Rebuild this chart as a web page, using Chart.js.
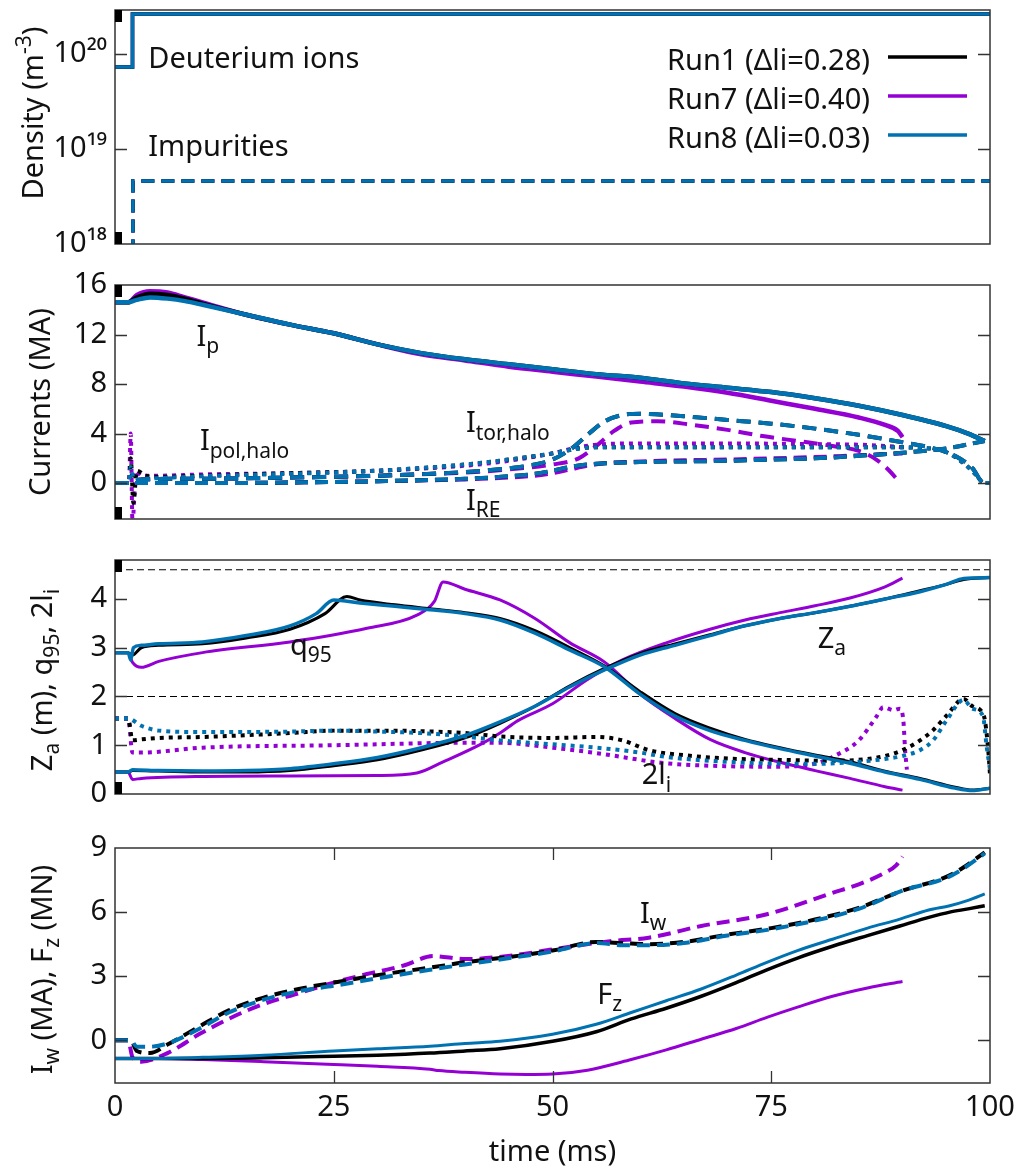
<!DOCTYPE html>
<html><head><meta charset="utf-8">
<script src="https://cdn.jsdelivr.net/npm/chart.js@4.4.1/dist/chart.umd.min.js"></script>
<style>
body{margin:0;background:#fff;width:1026px;height:1168px;position:relative;overflow:hidden}
canvas{position:absolute;left:0}
</style></head><body>
<canvas id="c1" width="1026" height="262" style="top:0px"></canvas>
<canvas id="c2" width="1026" height="273" style="top:262px"></canvas>
<canvas id="c3" width="1026" height="280" style="top:535px"></canvas>
<canvas id="c4" width="1026" height="353" style="top:815px"></canvas>
<script>
// ---------------- DATA ----------------
const runLabels = ['Run1 (Δli=0.28)', 'Run7 (Δli=0.40)', 'Run8 (Δli=0.03)'];
const xTicks = [0, 25, 50, 75, 100];

// Panel 1: density
const densTicks = [1e18, 1e19, 1e20];
const densTickLabels = ['10¹⁸', '10¹⁹', '10²⁰'];
const tDeut = [0, 2.0, 2.0, 100];
const deutRun1 = [7.3e19, 7.3e19, 2.63e20, 2.63e20];
const deutRun7 = [7.3e19, 7.3e19, 2.63e20, 2.63e20];
const deutRun8 = [7.3e19, 7.3e19, 2.63e20, 2.63e20];
const tImp = [2.05, 2.05, 100];
const impRun1 = [5e17, 4.6e18, 4.6e18];
const impRun7 = [5e17, 4.6e18, 4.6e18];
const impRun8 = [5e17, 4.6e18, 4.6e18];

// Panel 2: currents (MA)
const curTicks = [0, 4, 8, 12, 16];
const tIp = [0, 1.5, 2.5, 4, 6, 8, 10, 15, 20, 25, 30, 35, 40, 45, 50, 55, 60, 65, 70, 75, 80, 85, 90, 95, 97.5, 99.4];
const ipRun1 = [14.6, 14.6, 15.0, 15.3, 15.2, 14.9, 14.5, 13.6, 12.8, 12.1, 11.2, 10.5, 10.0, 9.6, 9.2, 8.8, 8.5, 8.05, 7.7, 7.35, 6.85, 6.25, 5.5, 4.6, 4.0, 3.4];
const ipRun8 = [14.6, 14.6, 14.8, 15.0, 14.9, 14.7, 14.4, 13.6, 12.8, 12.1, 11.2, 10.5, 10.0, 9.6, 9.2, 8.8, 8.5, 8.05, 7.7, 7.35, 6.85, 6.25, 5.5, 4.6, 4.0, 3.4];
const tIp7 = [0, 1.5, 2.5, 4, 6, 8, 10, 15, 20, 25, 30, 35, 40, 45, 50, 55, 60, 65, 70, 75, 80, 85, 88, 89.5, 90];
const ipRun7 = [14.6, 14.6, 15.2, 15.5, 15.4, 15.0, 14.6, 13.6, 12.8, 12.1, 11.2, 10.4, 9.9, 9.4, 9.0, 8.6, 8.2, 7.8, 7.3, 6.65, 6.0, 5.3, 4.7, 4.2, 3.7];

const tPol = [0, 1.6, 1.8, 2.1, 2.5, 3.5, 5, 10, 20, 30, 40, 45, 50, 53, 55, 60, 70, 80, 88, 92, 95, 97, 98.5, 99.3, 100];
const polRun1 = [0, 0, 2.0, -1.6, 1.0, 0.6, 0.5, 0.6, 0.8, 1.0, 1.5, 1.9, 2.4, 2.8, 2.9, 2.9, 2.9, 2.9, 2.9, 2.85, 2.5, 1.6, 0.6, 0, 0];
const polRun8 = [0, 0, 1.3, 0.4, 0.3, 0.35, 0.4, 0.55, 0.75, 1.0, 1.5, 1.9, 2.4, 2.8, 2.9, 2.9, 2.9, 2.9, 2.9, 2.85, 2.5, 1.6, 0.6, 0, 0];
const tPol7 = [0, 1.6, 1.8, 2.0, 2.4, 3, 5, 10, 20, 30, 40, 45, 50, 53, 55, 60, 70, 80, 85, 88, 90];
const polRun7 = [0, 0, 4.0, -3.2, 1.0, 0.6, 0.6, 0.7, 0.8, 1.0, 1.4, 1.8, 2.4, 2.9, 3.1, 3.2, 3.2, 3.15, 3.1, 3.0, 2.9];

const tTor = [0, 2, 3, 10, 20, 30, 40, 45, 48, 50, 52, 54, 56, 58, 60, 65, 70, 75, 80, 85, 90, 93, 96, 98, 99.3, 100];
const torRun1 = [0, 0, 0.3, 0.35, 0.45, 0.6, 0.9, 1.2, 1.5, 1.9, 2.7, 3.9, 5.0, 5.5, 5.6, 5.4, 5.1, 4.8, 4.4, 3.9, 3.3, 2.9, 2.2, 1.2, 0, 0];
const torRun8 = [0, 0, 0.3, 0.35, 0.45, 0.6, 0.9, 1.2, 1.5, 1.9, 2.7, 3.9, 5.0, 5.5, 5.6, 5.4, 5.1, 4.8, 4.4, 3.9, 3.3, 2.9, 2.2, 1.2, 0, 0];
const tTor7 = [0, 2, 3, 10, 20, 30, 40, 45, 50, 53, 55, 57, 59, 62, 66, 70, 74, 78, 82, 85, 87, 88.5, 89.5];
const torRun7 = [0, 0, 0.3, 0.35, 0.45, 0.6, 0.85, 1.1, 1.5, 2.0, 3.0, 4.2, 4.9, 5.0, 4.7, 4.3, 3.8, 3.4, 3.0, 2.6, 1.9, 1.0, 0.2];

const tRE = [0, 10, 20, 30, 40, 45, 48, 50, 52, 54, 56, 60, 65, 70, 75, 80, 85, 90, 95, 99.4];
const reRun1 = [0, 0, 0.05, 0.15, 0.35, 0.55, 0.75, 1.0, 1.3, 1.5, 1.6, 1.7, 1.75, 1.8, 1.9, 2.0, 2.2, 2.45, 2.8, 3.4];
const reRun8 = [0, 0, 0.05, 0.15, 0.35, 0.55, 0.75, 1.0, 1.3, 1.5, 1.6, 1.7, 1.75, 1.8, 1.9, 2.0, 2.2, 2.45, 2.8, 3.4];
const tRE7 = [0, 10, 20, 30, 40, 45, 48, 50, 52, 54, 56, 60, 65, 70, 75, 80, 85, 90];
const reRun7 = [0, 0, 0.05, 0.15, 0.3, 0.45, 0.6, 0.8, 1.1, 1.4, 1.6, 1.75, 1.85, 1.9, 2.0, 2.1, 2.25, 2.4];

// Panel 3: Za, q95, 2li
const zTicks = [0, 1, 2, 3, 4];
const refLevels = [2, 4.6];
const tQ8 = [0, 1.5, 1.8, 2.1, 3, 5, 10, 15, 20, 23, 25, 28, 32, 36, 40, 44, 48, 52, 56, 60, 64, 68, 72, 76, 80, 84, 88, 92, 96, 98, 100];
const q95Run8 = [2.9, 2.9, 2.75, 3.0, 3.05, 3.08, 3.12, 3.25, 3.45, 3.7, 3.98, 3.92, 3.85, 3.78, 3.7, 3.57, 3.3, 2.95, 2.6, 2.05, 1.6, 1.3, 1.1, 0.93, 0.78, 0.63, 0.45, 0.3, 0.12, 0.07, 0.12];
const tQ1 = [0, 1.5, 2.0, 3, 5, 10, 15, 20, 24, 26.5, 28, 32, 36, 40, 44, 48, 52, 56, 60, 64, 68, 72, 76, 80, 84, 88, 92, 96, 98, 100];
const q95Run1 = [2.9, 2.9, 2.85, 3.0, 3.05, 3.08, 3.2, 3.38, 3.7, 4.05, 3.98, 3.88, 3.8, 3.72, 3.6, 3.35, 3.0, 2.62, 2.1, 1.65, 1.35, 1.12, 0.95, 0.8, 0.66, 0.47, 0.32, 0.14, 0.08, 0.12];
const tQ7 = [0, 1.5, 2, 3, 5, 10, 20, 28.8, 34.5, 36.5, 37.5, 40, 44, 48, 52, 56, 60, 64, 68, 72, 76, 80, 84, 88, 90];
const q95Run7 = [2.9, 2.9, 2.7, 2.6, 2.72, 2.9, 3.12, 3.4, 3.67, 3.95, 4.35, 4.2, 3.98, 3.6, 3.1, 2.7, 2.05, 1.55, 1.12, 0.85, 0.65, 0.48, 0.32, 0.15, 0.08];

const tZ = [0, 1.5, 2, 5, 10, 15, 20, 25, 30, 35, 40, 44, 48, 52, 56, 60, 64, 68, 72, 76, 80, 84, 88, 92, 95, 97, 100];
const zaRun8 = [0.45, 0.45, 0.5, 0.48, 0.47, 0.48, 0.52, 0.62, 0.75, 0.95, 1.2, 1.48, 1.8, 2.2, 2.55, 2.85, 3.05, 3.25, 3.45, 3.6, 3.72, 3.85, 4.0, 4.15, 4.3, 4.42, 4.44];
const zaRun1 = [0.45, 0.45, 0.48, 0.47, 0.45, 0.45, 0.48, 0.58, 0.7, 0.9, 1.15, 1.45, 1.8, 2.22, 2.58, 2.88, 3.08, 3.27, 3.45, 3.6, 3.72, 3.85, 4.0, 4.17, 4.3, 4.4, 4.44];
const tZ7 = [0, 1.5, 2, 3, 10, 20, 30, 34.5, 37.5, 42, 44, 46, 50, 54, 58, 63, 68, 72, 76, 80, 84, 88, 90];
const zaRun7 = [0.45, 0.45, 0.3, 0.32, 0.36, 0.37, 0.38, 0.43, 0.66, 1.04, 1.25, 1.5, 1.85, 2.35, 2.75, 3.1, 3.38, 3.57, 3.72, 3.86, 4.02, 4.25, 4.43];

const tLi8 = [0, 1.5, 3, 5, 10, 20, 25, 30, 35, 40, 44, 50, 55, 60, 63, 68, 74, 80, 85, 88, 90, 92, 93.5, 95, 97, 98, 99.2, 99.6, 100];
const liRun8 = [1.55, 1.55, 1.4, 1.3, 1.27, 1.28, 1.3, 1.28, 1.25, 1.18, 1.1, 1.02, 0.95, 0.85, 0.76, 0.68, 0.63, 0.62, 0.66, 0.72, 0.78, 0.9, 1.1, 1.5, 1.93, 1.75, 1.6, 1.0, 0.5];
const tLi1 = [0, 1.5, 2, 3, 5, 10, 20, 25, 30, 40, 44, 50, 55, 58, 61, 66, 71, 76, 82, 86, 88, 90, 92, 93.5, 95, 97, 98, 99.3, 99.8, 100];
const liRun1 = [1.55, 1.55, 1.1, 1.12, 1.15, 1.17, 1.25, 1.3, 1.3, 1.25, 1.18, 1.15, 1.17, 1.1, 0.9, 0.78, 0.72, 0.7, 0.68, 0.72, 0.78, 0.9, 1.1, 1.31, 1.6, 1.95, 1.8, 1.6, 0.9, 0.4];
const tLi7 = [0, 1.5, 2, 3, 10, 25, 40, 44, 50, 55, 63, 70, 75, 80, 82, 85, 87, 87.8, 89, 89.7, 90.1, 90.3, 90.5];
const liRun7 = [1.55, 1.55, 0.85, 0.85, 0.95, 1.0, 1.05, 1.05, 0.95, 0.84, 0.63, 0.57, 0.56, 0.62, 0.76, 1.1, 1.58, 1.78, 1.72, 1.75, 1.5, 0.9, 0.5];

// Panel 4: Iw, Fz
const wTicks = [0, 3, 6, 9];
const tIw = [0, 1.8, 2.5, 4, 6, 9.7, 13, 17, 21, 25, 30, 36, 40, 46, 50, 55, 58, 61, 65, 70, 75, 80, 85, 90, 95, 97, 99.4];
const iwRun1 = [0, 0, -0.5, -0.6, -0.2, 0.66, 1.4, 2.0, 2.4, 2.7, 3.05, 3.4, 3.65, 3.95, 4.2, 4.6, 4.55, 4.5, 4.6, 4.95, 5.25, 5.65, 6.2, 7.0, 7.65, 8.1, 8.8];
const iwRun8 = [0, 0, -0.3, -0.3, -0.15, 0.55, 1.3, 1.9, 2.3, 2.55, 2.9, 3.3, 3.55, 3.9, 4.15, 4.55, 4.45, 4.45, 4.55, 4.9, 5.2, 5.6, 6.15, 7.0, 7.6, 8.05, 8.75];
const tIw7 = [0, 1.5, 2, 3, 6, 9.7, 13.5, 17, 21, 25, 28.8, 33, 36.4, 40, 46, 50, 56.6, 61, 67, 74.5, 82, 85, 87.8, 89.3, 90];
const iwRun7 = [0, 0, -0.8, -1.0, -0.6, 0.3, 1.1, 1.7, 2.2, 2.7, 3.1, 3.5, 3.94, 3.8, 4.0, 4.25, 4.64, 4.8, 5.35, 5.9, 6.9, 7.3, 7.8, 8.2, 8.6];

const tFz = [0, 5, 10, 17, 25, 30, 36, 40, 44, 50, 55, 59, 63, 67, 71, 74.5, 78, 82, 86, 89.7, 93, 95.4, 97.5, 99.4];
const fzRun1 = [-0.85, -0.85, -0.85, -0.82, -0.75, -0.7, -0.6, -0.5, -0.4, -0.05, 0.4, 1.0, 1.5, 2.06, 2.7, 3.3, 3.85, 4.4, 4.9, 5.35, 5.75, 6.0, 6.15, 6.3];
const fzRun8 = [-0.85, -0.85, -0.8, -0.7, -0.5, -0.4, -0.28, -0.15, -0.05, 0.28, 0.75, 1.3, 1.85, 2.4, 3.05, 3.65, 4.2, 4.73, 5.25, 5.67, 6.1, 6.3, 6.55, 6.85];
const tFz7 = [0, 5, 10, 17, 25, 30, 36, 37, 40, 44, 47, 50, 54, 59, 63, 67, 71, 74.5, 78, 82, 86, 90];
const fzRun7 = [-0.85, -0.85, -0.9, -1.0, -1.13, -1.22, -1.36, -1.42, -1.5, -1.58, -1.6, -1.58, -1.4, -0.9, -0.45, 0.05, 0.55, 1.07, 1.55, 2.06, 2.45, 2.75];

// ---------------- STYLE / HELPERS ----------------
const BLACK = '#000000', PURPLE = '#9400d3', BLUE = '#0072b2';
const runColors = [BLACK, PURPLE, BLUE];
const FONT = '"Noto Sans", "Open Sans", sans-serif';
const FS = 29;
const SOLID = [], DASH = [14, 8], LDASH = [13, 7], DOT = [4, 5];

function line(t, v, color, dash, width, smooth = true) {
  return {
    data: t.map((x, i) => ({x: x, y: v[i]})),
    borderColor: color, borderWidth: width, borderDash: dash,
    pointRadius: 0, fill: false,
    cubicInterpolationMode: smooth ? 'monotone' : 'default', tension: 0
  };
}
function parseRich(s) {
  const out = []; const re = /([_^])\{([^}]*)\}/g; let last = 0, m;
  while ((m = re.exec(s))) {
    if (m.index > last) out.push({t: s.slice(last, m.index), k: 0});
    out.push({t: m[2], k: m[1] === '_' ? 1 : -1});
    last = re.lastIndex;
  }
  if (last < s.length) out.push({t: s.slice(last), k: 0});
  return out;
}
function drawRich(ctx, s, x, y, size, align) {
  const segs = parseRich(s); const small = Math.round(size * 0.72);
  let w = 0;
  segs.forEach(g => { ctx.font = (g.k ? small : size) + 'px ' + FONT; w += ctx.measureText(g.t).width; });
  let cx = align === 'center' ? x - w / 2 : (align === 'right' ? x - w : x);
  ctx.textAlign = 'left'; ctx.textBaseline = 'alphabetic'; ctx.fillStyle = '#111';
  segs.forEach(g => {
    ctx.font = (g.k ? small : size) + 'px ' + FONT;
    const dy = g.k === 1 ? size * 0.25 : (g.k === -1 ? -size * 0.42 : 0);
    ctx.fillText(g.t, cx, y + dy);
    cx += ctx.measureText(g.t).width;
  });
}

function decor(o) {
  return {
    id: 'decor',
    afterDraw(chart) {
      const ctx = chart.ctx, a = chart.chartArea;
      const xs = chart.scales.x, ys = chart.scales.y;
      ctx.save();
      // frame
      ctx.strokeStyle = '#333'; ctx.lineWidth = 1.5;
      ctx.strokeRect(a.left, a.top, a.right - a.left, a.bottom - a.top);
      // inward ticks
      ctx.lineWidth = 1.3; ctx.beginPath();
      o.yTicks.forEach(v => {
        if (v <= ys.min || v >= ys.max) return;
        const y = Math.round(ys.getPixelForValue(v)) + 0.5;
        ctx.moveTo(a.left, y); ctx.lineTo(a.left + 12, y);
        ctx.moveTo(a.right - 12, y); ctx.lineTo(a.right, y);
      });
      (o.xTicks || []).forEach(v => {
        if (v <= xs.min || v >= xs.max) return;
        const x = Math.round(xs.getPixelForValue(v)) + 0.5;
        ctx.moveTo(x, a.bottom); ctx.lineTo(x, a.bottom - 12);
        ctx.moveTo(x, a.top); ctx.lineTo(x, a.top + 12);
      });
      ctx.stroke();
      // small black corner marks
      if (o.marks) {
        ctx.fillStyle = '#000';
        ctx.fillRect(a.left, a.top, 7, 12);
        ctx.fillRect(a.left, a.bottom - 12, 7, 12);
      }
      // annotations
      (o.annos || []).forEach(n => {
        drawRich(ctx, n.s, xs.getPixelForValue(n.t), ys.getPixelForValue(n.v), FS, 'left');
      });
      // y-axis title (rotated)
      ctx.save();
      ctx.translate(o.titleX, (a.top + a.bottom) / 2 + o.titleDy);
      ctx.rotate(-Math.PI / 2);
      drawRich(ctx, o.title, 0, 0, FS, 'center');
      ctx.restore();
      // legend
      if (o.legend) {
        runLabels.forEach((lab, i) => {
          const by = a.top + 60 + i * 39;
          drawRich(ctx, lab, a.right - 120, by, FS, 'right');
          ctx.strokeStyle = runColors[i]; ctx.lineWidth = 3.5; ctx.setLineDash([]);
          ctx.beginPath(); ctx.moveTo(a.right - 102, by - 13); ctx.lineTo(a.right - 23, by - 13); ctx.stroke();
        });
      }
      ctx.restore();
    }
  };
}

function yScale(type, min, max, ticks, labels) {
  return {
    type: type, min: min, max: max,
    afterFit: s => { s.width = 115; s.paddingTop = 0; s.paddingBottom = 0; },
    afterBuildTicks: s => { s.ticks = ticks.map(v => ({value: v})); },
    ticks: {
      font: {family: FONT, size: FS}, color: '#111', padding: 8, autoSkip: false,
      callback: (v) => { const i = ticks.indexOf(v); return labels ? (i >= 0 ? labels[i] : '') : String(v); }
    },
    grid: {display: false, drawTicks: false}, border: {display: false}
  };
}
const xHidden = {type: 'linear', min: 0, max: 100, display: false};

function make(id, datasets, y, x, padding, o) {
  new Chart(document.getElementById(id), {
    type: 'line',
    data: {datasets: datasets},
    options: {
      responsive: false, animation: false, events: [],
      layout: {padding: padding},
      plugins: {legend: {display: false}, tooltip: {enabled: false}},
      scales: {x: x, y: y}
    },
    plugins: [decor(o)]
  });
}

// ---------------- PANEL 1 ----------------
make('c1', [
  line(tDeut, deutRun8, BLUE, SOLID, 3.5, false),
  line(tImp, impRun8, BLUE, LDASH, 3.5, false),
  line(tDeut, deutRun1, BLACK, SOLID, 3.5, false),
  line(tImp, impRun1, BLACK, LDASH, 3.5, false),
  line(tDeut, deutRun7, PURPLE, SOLID, 3.5, false),
  line(tImp, impRun7, PURPLE, LDASH, 3.5, false)
], yScale('logarithmic', 1e18, 2.9e20, densTicks, densTickLabels), xHidden,
  {top: 10, bottom: 18, left: 0, right: 36},
  {yTicks: densTicks, marks: true, legend: true, title: 'Density (m^{-3})', titleX: 43, titleDy: -14,
   annos: [{s: 'Deuterium ions', t: 3.8, v: 7.1e19}, {s: 'Impurities', t: 3.8, v: 8.4e18}]});

// ---------------- PANEL 2 ----------------
make('c2', [
  line(tIp, ipRun8, BLUE, SOLID, 4.5),
  line(tPol, polRun8, BLUE, DOT, 4),
  line(tTor, torRun8, BLUE, DASH, 4),
  line(tRE, reRun8, BLUE, LDASH, 4),
  line(tIp, ipRun1, BLACK, SOLID, 4.5),
  line(tPol, polRun1, BLACK, DOT, 4),
  line(tTor, torRun1, BLACK, DASH, 4),
  line(tRE, reRun1, BLACK, LDASH, 4),
  line(tIp7, ipRun7, PURPLE, SOLID, 4.5),
  line(tPol7, polRun7, PURPLE, DOT, 4),
  line(tTor7, torRun7, PURPLE, DASH, 4),
  line(tRE7, reRun7, PURPLE, LDASH, 4)
], yScale('linear', -2.9, 16, curTicks), xHidden,
  {top: 23, bottom: 16, left: 0, right: 36},
  {yTicks: curTicks, marks: true, title: 'Currents (MA)', titleX: 50, titleDy: 0,
   annos: [{s: 'I_{p}', t: 9.3, v: 11.1}, {s: 'I_{pol,halo}', t: 9.7, v: 2.64},
           {s: 'I_{tor,halo}', t: 40.1, v: 4.1}, {s: 'I_{RE}', t: 40.1, v: -2.15}]});

// ---------------- PANEL 3 ----------------
const refSets = refLevels.map(l => line([0, 100], [l, l], '#000', [7, 4], 1.2, false));
make('c3', [
  line(tQ8, q95Run8, BLUE, SOLID, 3.5),
  line(tZ, zaRun8, BLUE, SOLID, 3.5),
  line(tLi8, liRun8, BLUE, DOT, 4),
  line(tQ1, q95Run1, BLACK, SOLID, 3),
  line(tZ, zaRun1, BLACK, SOLID, 3),
  line(tLi1, liRun1, BLACK, DOT, 4),
  line(tQ7, q95Run7, PURPLE, SOLID, 3),
  line(tZ7, zaRun7, PURPLE, SOLID, 3),
  line(tLi7, liRun7, PURPLE, DOT, 4)
].concat(refSets), yScale('linear', 0, 4.8, zTicks), xHidden,
  {top: 25, bottom: 21, left: 0, right: 36},
  {yTicks: zTicks, marks: true, title: 'Z_{a} (m), q_{95}, 2l_{i}', titleX: 52, titleDy: 3,
   annos: [{s: 'q_{95}', t: 20, v: 2.85}, {s: 'Z_{a}', t: 80.3, v: 3.0}, {s: '2l_{i}', t: 60.2, v: 0.2}]});

// ---------------- PANEL 4 ----------------
make('c4', [
  line(tIw, iwRun8, BLUE, LDASH, 4),
  line(tFz, fzRun8, BLUE, SOLID, 3),
  line(tIw, iwRun1, BLACK, LDASH, 4),
  line(tFz, fzRun1, BLACK, SOLID, 3.5),
  line(tIw7, iwRun7, PURPLE, LDASH, 4),
  line(tFz7, fzRun7, PURPLE, SOLID, 3)
], yScale('linear', -2, 9, wTicks), {
  type: 'linear', min: 0, max: 100,
  afterFit: s => { s.height = 85; s.paddingLeft = 0; s.paddingRight = 0; },
  afterBuildTicks: s => { s.ticks = xTicks.map(v => ({value: v})); },
  ticks: {font: {family: FONT, size: FS}, color: '#111', padding: 7, autoSkip: false, maxRotation: 0},
  grid: {display: false, drawTicks: false}, border: {display: false},
  title: {display: true, text: 'time (ms)', font: {family: FONT, size: FS, lineHeight: 1.0}, color: '#111', padding: {top: 0, bottom: 1}}
}, {top: 33, bottom: 0, left: 0, right: 36},
  {yTicks: wTicks, xTicks: xTicks, marks: false, title: 'I_{w} (MA), F_{z} (MN)', titleX: 52, titleDy: 4,
   annos: [{s: 'I_{w}', t: 60, v: 5.5}, {s: 'F_{z}', t: 55.1, v: 1.7}]});
</script>
</body></html>
